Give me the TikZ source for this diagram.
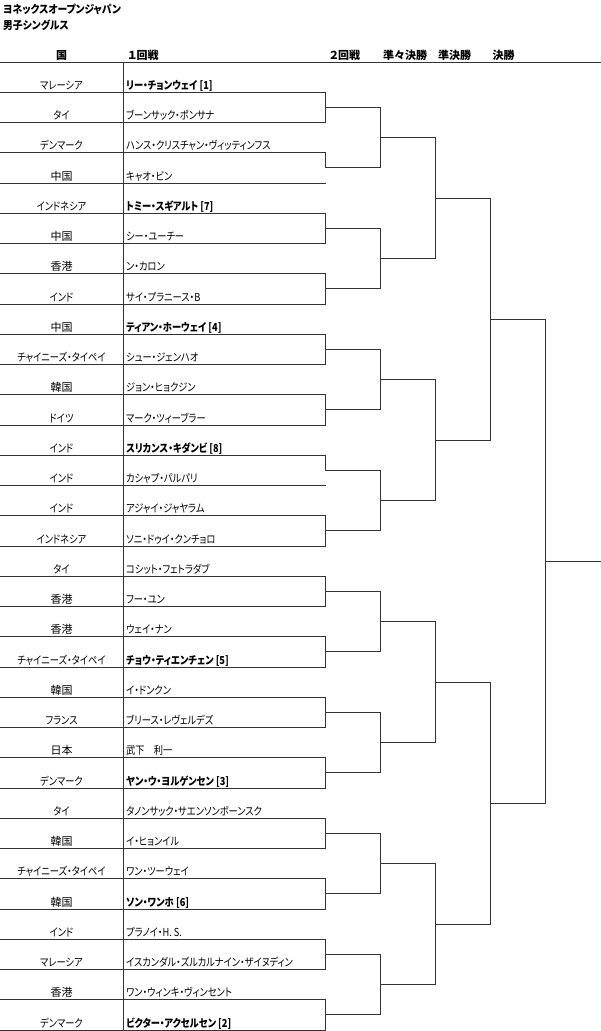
\documentclass[tikz,border=0pt]{standalone}
\usepackage{fontspec}
\usepackage{graphicx}
\setmainfont{Noto Sans CJK JP}[RawFeature=+palt]
\newcommand\sq[1]{\scalebox{0.84}[1]{#1}}
\newcommand\kj[1]{\scalebox{1.19}[1]{#1}}
\begin{document}
\begin{tikzpicture}[x=1pt,y=-1pt,
  ln/.style={draw=black!80, line width=1.2pt, line cap=rect},
  ctry/.style={anchor=base, inner sep=0pt, font=\fontsize{11}{12}\selectfont},
  pname/.style={anchor=base west, inner sep=0pt, font=\fontsize{11}{12}\selectfont},
  hdr/.style={anchor=base west, inner sep=0pt, font=\fontsize{11}{12}\selectfont\bfseries},
]
\useasboundingbox (0,0) rectangle (600,1031);
\fill[white] (0,0) rectangle (600,1031);

\node[hdr] (t1) at (3,13.5) {\scalebox{0.89}[1]{ヨネックスオープンジャパン}};
\node[hdr] (t2) at (3,29.5) {\scalebox{0.89}[1]{男子シングルス}};
\node[hdr, anchor=base] (h0) at (61.5,59) {国};
\node[hdr] (h1) at (128,59) {１回戦};
\node[hdr] (h2) at (329.5,59) {２回戦};
\node[hdr] (h3) at (383,59) {準々決勝};
\node[hdr] (h4) at (438,59) {準決勝};
\node[hdr] (h5) at (492.5,59) {決勝};

\coordinate (hl) at (0,62.5);
\coordinate (hr) at (600,62.5);
\draw[ln] (hl) -- (hr);
\coordinate (vt) at (123.5,62.5);
\coordinate (vb) at (123.5,1031);
\draw[ln] (vt) -- (vb);

\foreach \i/\c/\n/\b in {
  1/マレーシア/{リー・チョンウェイ [1]}/1,
  2/タイ/ブーンサック・ポンサナ/0,
  3/デンマーク/ハンス・クリスチャン・ヴィッティンフス/0,
  4/{\kj{中国}}/キャオ・ビン/0,
  5/インドネシア/{トミー・スギアルト [7]}/1,
  6/{\kj{中国}}/シー・ユーチー/0,
  7/{\kj{香港}}/ン・カロン/0,
  8/インド/サイ・プラニース・B/0,
  9/{\kj{中国}}/{ティアン・ホーウェイ [4]}/1,
  10/チャイニーズ・タイペイ/シュー・ジェンハオ/0,
  11/{\kj{韓国}}/ジョン・ヒョクジン/0,
  12/ドイツ/マーク・ツィーブラー/0,
  13/インド/{スリカンス・キダンビ [8]}/1,
  14/インド/カシャプ・パルパリ/0,
  15/インド/アジャイ・ジャヤラム/0,
  16/インドネシア/ソニ・ドゥイ・クンチョロ/0,
  17/タイ/コシット・フェトラダブ/0,
  18/{\kj{香港}}/フー・ユン/0,
  19/{\kj{香港}}/ウェイ・ナン/0,
  20/チャイニーズ・タイペイ/{チョウ・ティエンチェン [5]}/1,
  21/{\kj{韓国}}/イ・ドンクン/0,
  22/フランス/ブリース・レヴェルデズ/0,
  23/{\kj{日本}}/武下　利一/0,
  24/デンマーク/{ヤン・ウ・ヨルゲンセン [3]}/1,
  25/タイ/タノンサック・サエンソンボーンスク/0,
  26/{\kj{韓国}}/イ・ヒョンイル/0,
  27/チャイニーズ・タイペイ/ワン・ツーウェイ/0,
  28/{\kj{韓国}}/{ソン・ワンホ [6]}/1,
  29/インド/{プラノイ・H. S.}/0,
  30/マレーシア/イスカンダル・ズルカルナイン・ザイヌディン/0,
  31/{\kj{香港}}/ワン・ウィンキ・ヴィンセント/0,
  32/デンマーク/{ビクター・アクセルセン [2]}/1}{
  \pgfmathsetmacro\yy{floor(62+\i*30.25)+0.5}
  \coordinate (r\i) at (0,\yy);
  \coordinate (w0-\i) at (325.5,\yy);
  \node[ctry] (c\i) at (61.5,\yy-3.5) {\sq{\c}};
  \node[pname] (n\i) at (126,\yy-3.5) {\ifnum\b=1 \bfseries\fi\sq{\n}};
  \draw[ln] (r\i) -- (w0-\i);
}

% rounds: L = 1 (first round) ... 5 (final)
\foreach \L/\nn/\xa/\xb in {1/16/325.5/380.5, 2/8/380.5/435.5, 3/4/435.5/490.5, 4/2/490.5/545.5, 5/1/545.5/600}{
  \pgfmathtruncatemacro\P{\L-1}
  \foreach \k in {1,...,\nn}{
    \pgfmathtruncatemacro\ta{2*\k-1}
    \pgfmathtruncatemacro\tb{2*\k}
    \pgfmathsetmacro\ym{floor(62+(2^\L*\k-2^(\L-1)+0.5)*30.25)+0.5}
    \coordinate (m\L-\k) at (\xa,\ym);
    \coordinate (w\L-\k) at (\xb,\ym);
    \pgfmathtruncatemacro\ex{(\L==1)&&((\k==2)||(\k==7))}
    \ifnum\ex=1
      \draw[ln] (w\P-\ta) -- (m\L-\k);
    \else
      \draw[ln] (w\P-\ta) -- (w\P-\tb);
    \fi
    \draw[ln] (m\L-\k) -- (w\L-\k);
  }
}
\end{tikzpicture}
\end{document}
